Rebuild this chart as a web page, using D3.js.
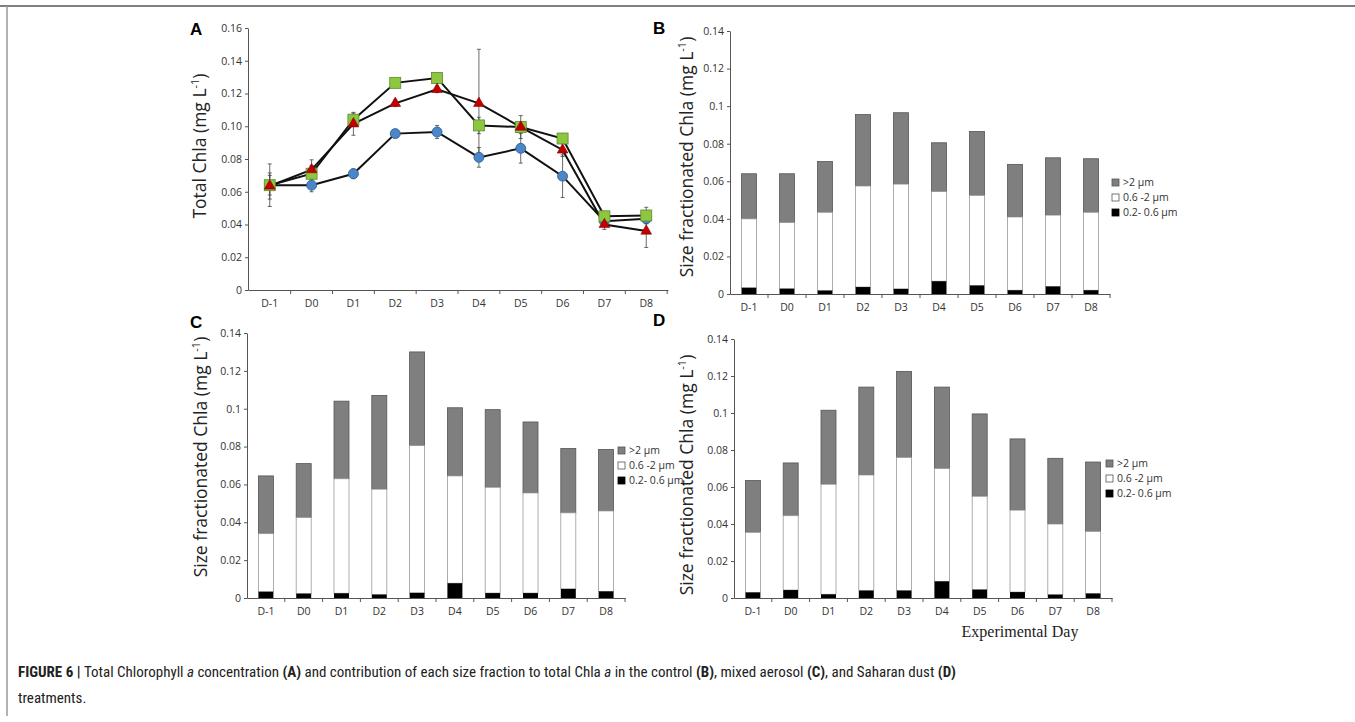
<!DOCTYPE html>
<html><head><meta charset="utf-8">
<script src="https://cdn.jsdelivr.net/npm/d3@7"></script>
<style>body{margin:0;background:#fff}svg{display:block}</style></head>
<body><svg id="c" width="1355" height="722"></svg>
<script>
const days=["D-1","D0","D1","D2","D3","D4","D5","D6","D7","D8"];
const aCircle=[.064,.064,.071,.0955,.0965,.081,.0865,.0695,.042,.0435];
const aCircleErr=[.006,.004,.003,.001,.004,.006,.009,.013,.002,.003];
const aSquare=[.064,.071,.104,.1265,.1295,.1005,.0995,.0925,.045,.0455];
const aSquareErr=[.013,.005,.004,.002,.003,.005,.003,.003,.002,.005];
const aTri=[.0635,.0735,.1015,.114,.1225,.114,.0995,.0855,.04,.036];
const aTriErr=[.008,.006,.007,.002,.002,.033,.007,.004,.003,.01];
const bTotal=[.064,.064,.0705,.0955,.0965,.0805,.0865,.069,.0725,.072];
const bMid=[.040,.038,.0435,.0575,.0585,.0545,.0525,.041,.042,.0435];
const bSmall=[.0033,.0028,.0018,.0037,.0027,.0068,.0045,.0020,.0040,.0020];
const cTotal=[.0645,.071,.104,.107,.130,.1005,.0995,.093,.079,.0785];
const cMid=[.034,.0425,.063,.0575,.0805,.0645,.0585,.0555,.045,.046];
const cSmall=[.0033,.0023,.0025,.0018,.0027,.0078,.0026,.0026,.0048,.0035];
const dTotal=[.0635,.073,.1015,.114,.1225,.114,.0995,.086,.0755,.0735];
const dMid=[.0355,.0445,.0615,.0665,.076,.070,.055,.0475,.040,.036];
const dSmall=[.0030,.0043,.0020,.0040,.0040,.0090,.0045,.0032,.0018,.0024];
const legendLabels=[">2 µm","0.6 -2 µm","0.2- 0.6 µm"];
const aTicks=[0,.02,.04,.06,.08,.10,.12,.14,.16];
const bTicks=[0,.02,.04,.06,.08,.1,.12,.14];

const svg=d3.select("#c");
const F="'Open Sans', 'Liberation Sans', sans-serif";
svg.append("line").attr("x1",0).attr("x2",1355).attr("y1",6).attr("y2",6).attr("stroke","#555").attr("stroke-width",1.5);
svg.append("line").attr("x1",7).attr("x2",7).attr("y1",6).attr("y2",716).attr("stroke","#999").attr("stroke-width",1.5);

function axes(g,x,y,ticks,fmt){
  const ya=g.append("g").attr("transform",`translate(${x.range()[0]},0)`)
    .call(d3.axisLeft(y).tickValues(ticks).tickFormat(fmt).tickSize(3).tickSizeOuter(0));
  const xa=g.append("g").attr("transform",`translate(0,${y(0)})`)
    .call(d3.axisBottom(x).tickSize(0));
  const xs=x.step();
  xa.selectAll(".sep").data(days).enter().append("line").attr("x1",d=>x(d)+x.bandwidth()+(xs-x.bandwidth())/2).attr("x2",d=>x(d)+x.bandwidth()+(xs-x.bandwidth())/2).attr("y1",0).attr("y2",4).attr("stroke","#555");
  [ya,xa].forEach(a=>{a.selectAll("path,line").attr("stroke","#555");a.selectAll("text").attr("font-family",F).attr("font-size",10.5).attr("fill","#333");});
  xa.selectAll(".tick text").attr("dy","1.3em");
}
function title(x,y,txt){
  const t=svg.append("text").attr("transform",`translate(${x},${y}) rotate(-90)`).attr("text-anchor","middle")
   .attr("font-family",F).attr("font-size",17.5).attr("fill","#222");
  t.append("tspan").text(txt);
  t.append("tspan").text(" (mg L");
  t.append("tspan").attr("font-size",11).attr("dy",-7).text("-1");
  t.append("tspan").attr("dy",7).text(")");
}
function letter(x,y,l){svg.append("text").attr("x",x).attr("y",y).attr("font-family","'Liberation Sans', Arial, sans-serif").attr("font-weight","bold").attr("font-size",17).text(l);}

// Panel A
{
 const x=d3.scaleBand().domain(days).range([248,668]).paddingInner(0).paddingOuter(0.02);
 const y=d3.scaleLinear().domain([0,.16]).range([290,28]);
 const g=svg.append("g");
 axes(g,x,y,aTicks,d=>d===0?"0":d3.format(".2f")(d));
 const cx=d=>x(d)+x.bandwidth()/2;
 const series=[[aCircle,aCircleErr,"circle","#4a86c8"],[aSquare,aSquareErr,"square","#8dc63f"],[aTri,aTriErr,"tri","#c00000"]];
 series.forEach(([v,e])=>{
   days.forEach((d,i)=>{g.append("line").attr("x1",cx(d)).attr("x2",cx(d)).attr("y1",y(v[i]-e[i])).attr("y2",y(v[i]+e[i])).attr("stroke","#444").attr("stroke-width",0.8);
     [v[i]-e[i],v[i]+e[i]].forEach(q=>g.append("line").attr("x1",cx(d)-2).attr("x2",cx(d)+2).attr("y1",y(q)).attr("y2",y(q)).attr("stroke","#444").attr("stroke-width",0.8));});
 });
 series.forEach(([v])=>{
   g.append("path").datum(v).attr("fill","none").attr("stroke","#111").attr("stroke-width",2)
    .attr("d",d3.line().x((q,i)=>cx(days[i])).y(q=>y(q)));
 });
 series.forEach(([v,e,s,c])=>{
   days.forEach((d,i)=>{
     const X=cx(d),Y=y(v[i]);
     if(s==="circle")g.append("circle").attr("cx",X).attr("cy",Y).attr("r",5).attr("fill",c).attr("stroke","#2a5a90").attr("stroke-width",0.8);
     else if(s==="square")g.append("rect").attr("x",X-5.5).attr("y",Y-5.5).attr("width",11).attr("height",11).attr("fill",c).attr("stroke","#5a8a30").attr("stroke-width",0.8);
     else g.append("path").attr("d",d3.symbol(d3.symbolTriangle,50)()).attr("transform",`translate(${X},${Y})`).attr("fill",c).attr("stroke","#800").attr("stroke-width",0.6);
   });
 });
 svg.append("text").attr("transform","translate(206,146) rotate(-90)").attr("text-anchor","middle").attr("font-family",F).attr("font-size",17.5).attr("fill","#222")
  .call(t=>{t.append("tspan").text("Total Chla (mg L");t.append("tspan").attr("font-size",11).attr("dy",-7).text("-1");t.append("tspan").attr("dy",7).text(")");});
 letter(190,35,"A");
}

function barPanel(x0,x1,yTop,yBot,tot,mid,small,legX,legY,tx,ty,lx,ly,L){
 const x=d3.scaleBand().domain(days).range([x0,x1]).paddingInner(0.6).paddingOuter(0.3);
 const y=d3.scaleLinear().domain([0,.14]).range([yBot,yTop]);
 const g=svg.append("g");
 const bw=15;
 days.forEach((d,i)=>{
   const X=x(d)+x.bandwidth()/2-bw/2;
   g.append("rect").attr("x",X).attr("width",bw).attr("y",y(tot[i])).attr("height",y(mid[i])-y(tot[i])).attr("fill","#7f7f7f").attr("stroke","#555").attr("stroke-width",0.8);
   g.append("rect").attr("x",X).attr("width",bw).attr("y",y(mid[i])).attr("height",y(small[i])-y(mid[i])).attr("fill","#fff").attr("stroke","#999").attr("stroke-width",0.8);
   g.append("rect").attr("x",X).attr("width",bw).attr("y",y(small[i])).attr("height",y(0)-y(small[i])).attr("fill","#000");
 });
 axes(g,x,y,bTicks,d=>d===0?"0":d3.format("~g")(d));
 const cols=["#7f7f7f","#fff","#000"];
 legendLabels.forEach((t,i)=>{
   svg.append("rect").attr("x",legX).attr("y",legY+i*15-4).attr("width",7).attr("height",7).attr("fill",cols[i]).attr("stroke",i==2?"#000":"#555").attr("stroke-width",0.8);
   svg.append("text").attr("x",legX+11).attr("y",legY+i*15+3).attr("font-family",F).attr("font-size",10.5).attr("fill","#333").text(t);
 });
 title(tx,ty,"Size fractionated Chla ");
 letter(lx,ly,L);
}
barPanel(730,1110,31,294,bTotal,bMid,bSmall,1112,183,693,157,653,34,"B");
barPanel(247,625,333,598,cTotal,cMid,cSmall,618,451,207,457,190,328,"C");
barPanel(734,1112,339,598,dTotal,dMid,dSmall,1106,464,693,475,653,326,"D");
svg.append("text").attr("x",1020).attr("y",637).attr("text-anchor","middle").attr("font-family","'Liberation Serif', 'DejaVu Serif', serif").attr("font-size",16).attr("fill","#222").text("Experimental Day");

const cf="'Liberation Sans Narrow','Roboto Condensed',Roboto,sans-serif";
const cap=svg.append("text").attr("x",18).attr("y",677).attr("font-family",cf).attr("font-size",15).attr("fill","#222");
cap.append("tspan").attr("font-weight","bold").text("FIGURE 6 | ");
cap.append("tspan").text("Total Chlorophyll ");
cap.append("tspan").attr("font-style","italic").text("a");
cap.append("tspan").text(" concentration ");
cap.append("tspan").attr("font-weight","bold").text("(A)");
cap.append("tspan").text(" and contribution of each size fraction to total Chla ");
cap.append("tspan").attr("font-style","italic").text("a");
cap.append("tspan").text(" in the control ");
cap.append("tspan").attr("font-weight","bold").text("(B)");
cap.append("tspan").text(", mixed aerosol ");
cap.append("tspan").attr("font-weight","bold").text("(C)");
cap.append("tspan").text(", and Saharan dust ");
cap.append("tspan").attr("font-weight","bold").text("(D)");
svg.append("text").attr("x",18).attr("y",703).attr("font-family",cf).attr("font-size",15).attr("fill","#222").text("treatments.");
</script></body></html>
